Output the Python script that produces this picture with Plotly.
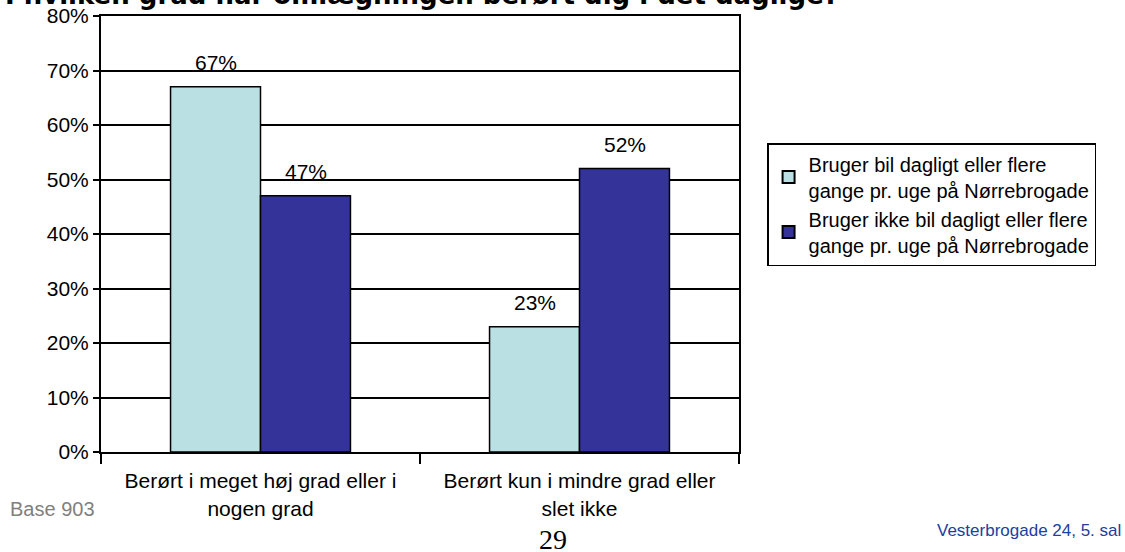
import plotly.graph_objects as go

categories = ["Berørt i meget høj grad eller i<br>nogen grad",
              "Berørt kun i mindre grad eller<br>slet ikke"]
series_names = ["Bruger bil dagligt eller flere<br>gange pr. uge på Nørrebrogade",
                "Bruger ikke bil dagligt eller flere<br>gange pr. uge på Nørrebrogade"]
drivers = [67, 23]
non_drivers = [47, 52]
tick_vals = [0, 10, 20, 30, 40, 50, 60, 70, 80]
tick_text = [f"{v}%" for v in tick_vals]

title_text = "I hvilken grad har omlægningen berørt dig i det daglige?"
base_text = "Base 903"
page_text = "29"
address_text = "Vesterbrogade 24, 5. sal"

FONT = "Liberation Sans, Arial, sans-serif"
colors = ["#BBE0E3", "#333399"]
series = [drivers, non_drivers]

fig = go.Figure()
for name, vals, col in zip(series_names, series, colors):
    fig.add_trace(go.Bar(
        x=categories, y=vals, name=name,
        marker=dict(color=col, line=dict(color="black", width=1.5)),
    ))

# value labels above each bar (half a bar to the left / right of the category)
for k, vals in enumerate(series):
    for cat, v in zip(categories, vals):
        fig.add_annotation(x=cat, y=v, text=f"{v}%", showarrow=False,
                           xshift=-45 if k == 0 else 45, yshift=24,
                           font=dict(family=FONT, size=21, color="black"))

fig.update_layout(
    width=1125, height=552,
    margin=dict(l=101, r=386, t=16, b=100),
    paper_bgcolor="white", plot_bgcolor="white",
    barmode="group", bargap=0.436, bargroupgap=0,
    font=dict(family=FONT, size=21, color="black"),
    showlegend=True,
    legend=dict(x=1.044, y=0.7087, xanchor="left", yanchor="top",
                bordercolor="black", borderwidth=1.5, bgcolor="white",
                font=dict(family=FONT, size=20), itemsizing="constant"),
    xaxis=dict(showline=True, linecolor="black", linewidth=2, mirror=True,
               ticks="outside", tickson="boundaries", ticklen=10,
               tickcolor="black", tickwidth=2, showgrid=False,
               ticklabelstandoff=9, automargin=False,
               tickfont=dict(family=FONT, size=21)),
    yaxis=dict(range=[0, 80], tickvals=tick_vals, ticktext=tick_text,
               showline=True, linecolor="black", linewidth=2, mirror=True,
               ticks="outside", ticklen=6, tickcolor="black", tickwidth=2,
               showgrid=True, gridcolor="black", gridwidth=2,
               zeroline=False, automargin=False,
               tickfont=dict(family=FONT, size=21)),
)

# title sits partly above the top edge of the page, as in the original slide
fig.add_annotation(text=f"<b>{title_text}</b>", xref="paper", yref="paper",
                   x=-0.1536, y=1.0092, xanchor="left", yanchor="bottom",
                   showarrow=False,
                   font=dict(family="DejaVu Sans, sans-serif", size=26, color="black"))
fig.add_annotation(text=base_text, xref="paper", yref="paper",
                   x=-0.1458, y=-0.1307, xanchor="left", yanchor="middle",
                   showarrow=False, font=dict(family=FONT, size=20, color="#808080"))
fig.add_annotation(text=page_text, xref="paper", yref="paper",
                   x=0.7085, y=-0.2018, xanchor="center", yanchor="middle",
                   showarrow=False,
                   font=dict(family="Liberation Serif, serif", size=28, color="black"))
fig.add_annotation(text=address_text, xref="paper", yref="paper",
                   x=1.307, y=-0.181, xanchor="left", yanchor="middle",
                   showarrow=False,
                   font=dict(family=FONT, size=17, color="#2040A0"))

fig.write_html("out.html", config={"displayModeBar": False},
               post_script="document.body.style.margin='0';")
